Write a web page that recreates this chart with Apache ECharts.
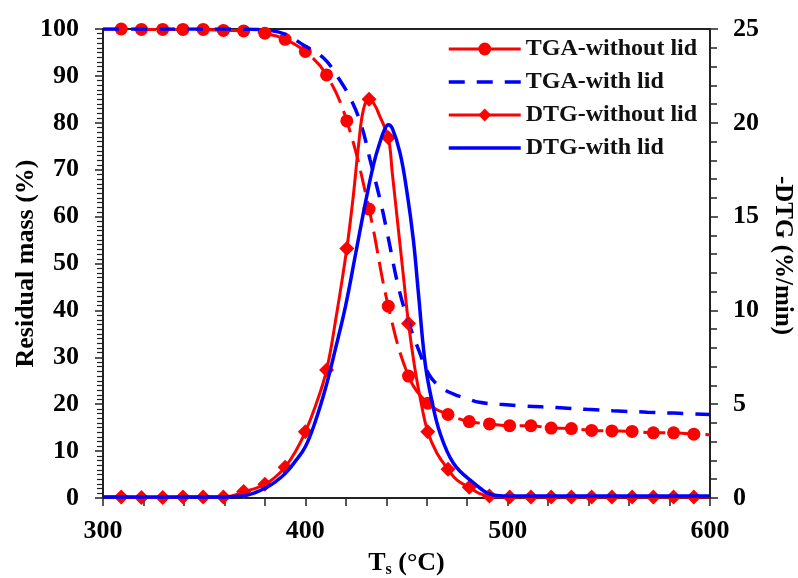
<!DOCTYPE html>
<html><head><meta charset="utf-8">
<script src="https://cdn.jsdelivr.net/npm/echarts@6/dist/echarts.min.js"></script>
<style>html,body{margin:0;padding:0;background:#fff}#c{width:798px;height:578px}</style>
</head><body><div id="c"></div>
<script>
const FONT = '"Liberation Serif", "Times New Roman", serif';
const seriesNames = ['TGA-without lid', 'TGA-with lid', 'DTG-without lid', 'DTG-with lid'];

// Marker temperatures (°C) for the "without lid" curves
const markerT = [309, 319, 329.5, 339.5, 349.5, 359.5, 369.5, 380, 390, 400, 410.5, 420.5, 431.5, 441, 451, 460.5, 470.5, 481, 491, 501, 511.5, 521.5, 531.5, 541.5, 551.5, 561.5, 572, 582, 592];
// TGA without lid (residual mass %) at marker temperatures
const tgaWithoutV = [100, 99.9, 99.9, 99.9, 99.9, 99.7, 99.6, 99.1, 97.8, 95.2, 90.2, 80.4, 61.6, 40.9, 26.0, 20.2, 17.8, 16.3, 15.8, 15.4, 15.4, 14.9, 14.8, 14.4, 14.3, 14.2, 13.9, 13.9, 13.6];
// TGA without lid line end points
const tgaWithoutStart = [300, 100];
const tgaWithoutEnd = [600, 13.5];
// DTG without lid (%/min) at marker temperatures
const dtgWithoutV = [0.05, 0.02, 0.02, 0.05, 0.05, 0.05, 0.34, 0.73, 1.64, 3.53, 6.82, 13.3, 21.25, 19.2, 9.3, 3.53, 1.53, 0.57, 0.1, 0.05, 0.05, 0.05, 0.05, 0.05, 0.05, 0.05, 0.05, 0.05, 0.05];
// DTG without lid line (denser trace)
const dtgWithoutLineT = [300, 309, 319, 329.5, 339.5, 349.5, 359.5, 365, 369.5, 375, 380, 385, 390, 395, 400, 405, 410.5, 415, 420.5, 423.7, 426.2, 428.7, 431.5, 434, 437, 441, 443, 446, 448.5, 451, 454, 457, 460.5, 465, 470.5, 475, 481, 486, 491, 500, 550, 600];
const dtgWithoutLineV = [0.05, 0.05, 0.02, 0.02, 0.05, 0.05, 0.05, 0.15, 0.34, 0.5, 0.73, 1.1, 1.64, 2.45, 3.53, 4.9, 6.82, 9.5, 13.3, 16.1, 18.7, 20.7, 21.25, 21.0, 20.3, 19.2, 17.3, 14.3, 11.8, 9.3, 7.0, 5.2, 3.53, 2.4, 1.53, 0.95, 0.57, 0.25, 0.1, 0.05, 0.05, 0.05];
// TGA with lid (residual mass %)
const tgaWithT = [300, 320, 340, 360, 370, 380, 390, 399, 409, 416, 423, 428, 432, 437, 440.5, 446, 451, 456, 461, 466, 473, 480, 486, 496, 509, 524, 539, 552, 569, 582, 600];
const tgaWithV = [100, 100, 100, 100, 99.95, 99.8, 98.9, 96.6, 93.8, 89.8, 84.6, 79.0, 72.1, 63.5, 56.5, 45.0, 37.5, 31.6, 26.4, 23.9, 22.2, 21.2, 20.4, 20.0, 19.6, 19.3, 18.9, 18.6, 18.3, 18.1, 17.8];
// DTG with lid (%/min)
const dtgWithT = [300, 350, 360, 365, 370, 375, 380, 385, 390, 395, 400, 405, 410, 415, 420, 425, 430, 434, 437, 439, 441, 443, 446.8, 450.1, 453.4, 455.9, 459.2, 462.5, 466.6, 473.2, 481.4, 493, 500, 600];
const dtgWithV = [0.05, 0.05, 0.05, 0.08, 0.12, 0.28, 0.52, 0.85, 1.3, 1.95, 2.73, 4.1, 5.86, 8.0, 10.3, 13.1, 15.9, 17.9, 19.0, 19.6, 19.9, 19.7, 18.4, 16.4, 13.75, 10.9, 7.2, 5.2, 3.45, 1.85, 0.96, 0.16, 0.1, 0.1];

const xTicks = { min: 300, max: 600, step: 100 };
const yLeftTicks = { min: 0, max: 100, step: 10 };
const yRightTicks = { min: 0, max: 25, step: 5 };

const zip = (a, b) => a.map((v, i) => [v, b[i]]);
const RED = '#ff0000', BLUE = '#0000ff', AX = '#222';

const labelStyle = { fontFamily: FONT, fontSize: 26, fontWeight: 'bold', color: '#000' };

const chart = echarts.init(document.getElementById('c'), null, { renderer: 'canvas' });
chart.setOption({
  animation: false,
  backgroundColor: '#fff',
  grid: { left: 103, right: 88, top: 29, bottom: 80, outerBoundsMode: 'none', containLabel: false,
          show: true, borderColor: AX, borderWidth: 2, backgroundColor: 'transparent' },
  legend: {
    orient: 'vertical', left: 442, top: 32, itemWidth: 72, itemHeight: 16, itemGap: 9,
    textStyle: { fontFamily: FONT, fontSize: 24, fontWeight: 'bold', color: '#111', lineHeight: 24 },
    lineStyle: { width: 3 },
    data: [
      { name: seriesNames[0], lineStyle: { type: 'solid', width: 3 } },
      { name: seriesNames[1], itemStyle: { opacity: 0 }, lineStyle: { width: 3.5 } },
      { name: seriesNames[2] },
      { name: seriesNames[3], itemStyle: { opacity: 0 }, lineStyle: { width: 3.5 } }
    ]
  },
  xAxis: {
    type: 'value', min: xTicks.min, max: xTicks.max, interval: xTicks.step,
    name: '{t|T}{s|s}{t| (°C)}', nameLocation: 'middle', nameGap: 45,
    nameTextStyle: Object.assign({}, labelStyle, { rich: {
      t: { fontFamily: FONT, fontSize: 26, fontWeight: 'bold', color: '#000', lineHeight: 30 },
      s: { fontFamily: FONT, fontSize: 16, fontWeight: 'bold', color: '#000', lineHeight: 16, verticalAlign: 'bottom', padding: [13, 0, 0, 0] }
    } }),
    axisLine: { show: true, lineStyle: { color: AX, width: 2 } },
    axisTick: { show: true, inside: false, length: 8, lineStyle: { color: AX, width: 1.5 } },
    minorTick: { show: true, splitNumber: 5, length: 8, lineStyle: { color: AX, width: 1.5 } },
    axisLabel: Object.assign({ margin: 20 }, labelStyle),
    splitLine: { show: false }, minorSplitLine: { show: false }
  },
  yAxis: [{
    type: 'value', min: yLeftTicks.min, max: yLeftTicks.max, interval: yLeftTicks.step, position: 'left',
    name: 'Residual mass (%)', nameLocation: 'middle', nameGap: 64, nameMoveOverlap: false, nameTextStyle: labelStyle,
    axisLine: { show: true, lineStyle: { color: AX, width: 2 } },
    axisTick: { show: true, inside: false, length: 8, lineStyle: { color: AX, width: 1.5 } },
    minorTick: { show: true, splitNumber: 10, length: 6, lineStyle: { color: AX, width: 1.2 } },
    axisLabel: Object.assign({ margin: 24 }, labelStyle),
    splitLine: { show: false }
  }, {
    type: 'value', min: yRightTicks.min, max: yRightTicks.max, interval: yRightTicks.step, position: 'right',
    name: '-DTG (%/min)', nameLocation: 'middle', nameGap: 56, nameRotate: -90,
    nameTextStyle: Object.assign({}, labelStyle, { fontSize: 25, padding: [0, 16, 0, 0] }),
    axisLine: { show: true, lineStyle: { color: AX, width: 2 } },
    axisTick: { show: true, inside: false, length: 8, lineStyle: { color: AX, width: 1.5 } },
    minorTick: { show: true, splitNumber: 5, length: 7, lineStyle: { color: AX, width: 1.5 } },
    axisLabel: Object.assign({ margin: 23 }, labelStyle),
    splitLine: { show: false }
  }],
  series: [
    { name: seriesNames[0], type: 'line', yAxisIndex: 0, smooth: 0.4, symbol: 'circle', showSymbol: false,
      lineStyle: { color: RED, width: 3, type: [22, 9] }, itemStyle: { color: RED },
      data: [tgaWithoutStart].concat(zip(markerT, tgaWithoutV), [tgaWithoutEnd]) },
    { name: seriesNames[0], type: 'scatter', yAxisIndex: 0, symbol: 'circle', symbolSize: 13,
      itemStyle: { color: RED, opacity: 1 }, data: zip(markerT, tgaWithoutV) },
    { name: seriesNames[1], type: 'line', yAxisIndex: 0, smooth: 0.4, symbol: 'circle', showSymbol: false,
      lineStyle: { color: BLUE, width: 3.5, type: [16, 12] }, itemStyle: { color: BLUE },
      data: zip(tgaWithT, tgaWithV) },
    { name: seriesNames[2], type: 'line', yAxisIndex: 1, smooth: 0.4, symbol: 'diamond', showSymbol: false,
      lineStyle: { color: RED, width: 3 }, itemStyle: { color: RED },
      data: zip(dtgWithoutLineT, dtgWithoutLineV) },
    { name: seriesNames[2], type: 'scatter', yAxisIndex: 1, symbol: 'diamond', symbolSize: 15,
      itemStyle: { color: RED, opacity: 1 }, data: zip(markerT, dtgWithoutV) },
    { name: seriesNames[3], type: 'line', yAxisIndex: 1, smooth: 0.4, symbol: 'circle', showSymbol: false,
      lineStyle: { color: BLUE, width: 3.5 }, itemStyle: { color: BLUE },
      data: zip(dtgWithT, dtgWithV) }
  ]
});
</script></body></html>
